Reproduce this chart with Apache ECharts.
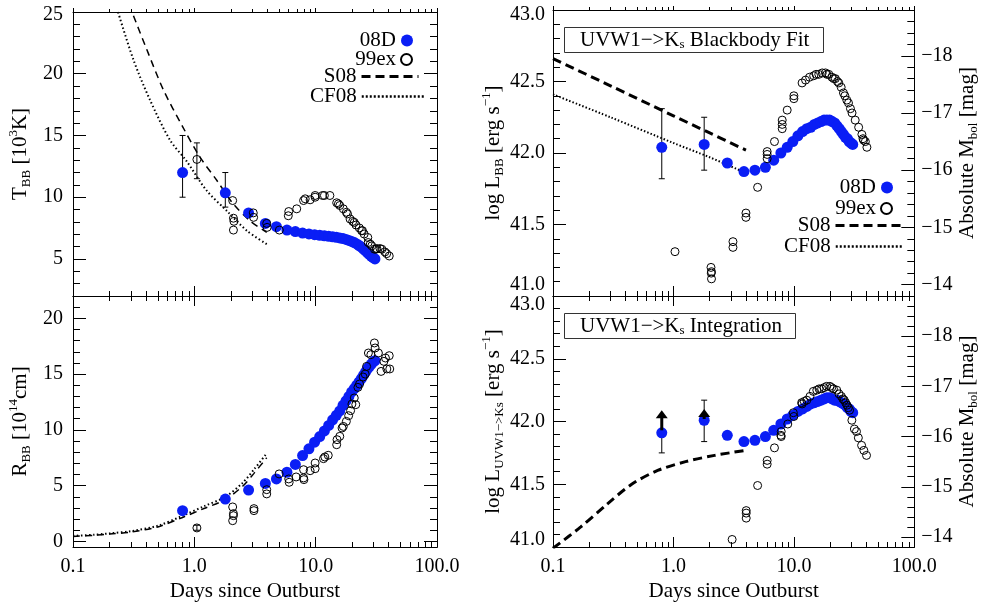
<!DOCTYPE html>
<html><head><meta charset="utf-8">
<script src="https://cdn.jsdelivr.net/npm/echarts@6.0.0/dist/echarts.min.js"></script>
<style>html,body{margin:0;padding:0;background:#fff}#c{width:981px;height:607px}</style>
</head><body><div id="c"></div>
<script>
// ---------- data ----------
// SN 2008D epochs (days since outburst)
const days08 = [0.8, 1.8, 2.8, 3.85, 4.75, 5.8, 6.8, 7.8, 8.8, 9.8, 10.8, 11.8, 12.8, 13.8, 14.8, 15.8, 16.8, 17.8, 18.8, 19.8, 20.8, 21.8, 22.8, 23.8, 24.8, 25.8, 26.8, 27.8, 28.8, 29.8, 30.8];
const T08 = [12.0, 10.36, 8.73, 7.88, 7.61, 7.34, 7.22, 7.10, 7.03, 6.97, 6.92, 6.87, 6.83, 6.79, 6.75, 6.70, 6.65, 6.58, 6.50, 6.42, 6.33, 6.22, 6.09, 5.95, 5.80, 5.65, 5.50, 5.35, 5.22, 5.10, 5.00];
const R08 = [2.76, 3.8, 4.6, 5.2, 5.6, 6.2, 6.9, 7.7, 8.3, 8.9, 9.4, 9.9, 10.4, 10.9, 11.3, 11.7, 12.2, 12.6, 13.0, 13.4, 13.7, 14.0, 14.3, 14.6, 14.9, 15.2, 15.5, 15.7, 15.9, 16.1, 16.2];
const LBB08 = [42.04, 42.06, 41.93, 41.87, 41.88, 41.90, 41.95, 42.00, 42.04, 42.08, 42.12, 42.15, 42.17, 42.18, 42.20, 42.21, 42.22, 42.23, 42.23, 42.23, 42.22, 42.21, 42.19, 42.17, 42.15, 42.13, 42.11, 42.10, 42.08, 42.07, 42.06];
const LUV08 = [41.91, 42.01, 41.89, 41.84, 41.85, 41.88, 41.93, 41.98, 42.02, 42.05, 42.08, 42.10, 42.12, 42.14, 42.15, 42.16, 42.17, 42.18, 42.19, 42.19, 42.18, 42.17, 42.17, 42.16, 42.15, 42.14, 42.13, 42.11, 42.10, 42.08, 42.07];

// SN 1999ex
const exT_days = [1.05, 2.07, 2.1, 2.12, 2.1, 3.06, 3.08, 3.95, 3.98, 5.02, 5.95, 6.0, 6.98, 7.95, 8.2, 9.0, 9.9, 9.9, 11.4, 11.8, 13.1, 14.9, 15.8, 16.9, 17.9, 19.2, 20.2, 21.5, 22.9, 24.3, 25.1, 26.9, 28.2, 29.0, 30.5, 32.0, 33.9, 35.1, 37.2, 38.5, 40.4, 15.4, 18.3, 20.8, 23.9, 27.1, 31.5];
const exT = [13.06, 9.73, 8.3, 8.05, 7.34, 8.73, 8.37, 7.88, 7.56, 7.34, 8.5, 8.84, 9.06, 9.73, 9.87, 9.79, 10.0, 10.14, 10.14, 10.14, 10.14, 9.55, 9.33, 9.06, 8.78, 8.24, 8.04, 7.75, 7.51, 7.29, 7.02, 6.74, 6.2, 6.06, 5.79, 5.84, 5.84, 5.79, 5.57, 5.43, 5.24, 9.46, 8.65, 7.96, 7.29, 6.33, 5.79];
const exR_days = [1.05, 2.07, 2.1, 2.1, 2.07, 3.1, 3.1, 3.95, 3.95, 5.0, 6.0, 6.05, 6.9, 7.95, 7.95, 8.0, 9.0, 9.9, 9.9, 11.6, 11.9, 12.7, 14.9, 15.0, 15.8, 16.5, 16.9, 17.9, 18.7, 19.4, 19.9, 20.8, 21.4, 22.3, 23.0, 24.6, 25.6, 26.3, 27.2, 28.5, 30.5, 30.9, 32.9, 34.6, 36.5, 37.6, 38.6, 40.4, 40.8];
const exR = [1.21, 3.09, 2.49, 2.31, 1.86, 2.94, 2.76, 4.64, 4.26, 6.05, 5.6, 5.3, 5.78, 6.43, 5.69, 5.54, 6.34, 7.03, 6.52, 7.42, 7.57, 7.72, 8.67, 9.12, 9.42, 10.17, 10.31, 10.76, 11.27, 11.72, 12.32, 12.86, 12.26, 13.81, 14.11, 14.74, 15.0, 15.69, 16.89, 16.74, 17.79, 17.34, 16.89, 15.24, 16.14, 16.44, 15.46, 16.65, 15.46];
const exLBB_days = [1.03, 2.05, 2.07, 2.07, 2.06, 3.12, 3.12, 4.0, 4.0, 5.0, 6.0, 6.0, 6.0, 6.9, 8.0, 8.0, 8.0, 8.8, 10.0, 10.0, 11.7, 12.5, 14.6, 16.1, 17.2, 18.3, 19.5, 20.7, 22.1, 23.6, 24.7, 25.8, 27.5, 28.4, 30.4, 32.3, 34.5, 36.7, 37.5, 37.9, 39.2, 40.4, 13.5, 15.3, 18.8, 21.4, 23.0, 26.5, 29.5];
const exLBB = [41.31, 41.2, 41.17, 41.12, 41.16, 41.38, 41.34, 41.58, 41.55, 41.76, 42.01, 41.99, 41.96, 42.08, 42.23, 42.2, 42.17, 42.3, 42.4, 42.38, 42.49, 42.51, 42.54, 42.55, 42.56, 42.56, 42.55, 42.53, 42.52, 42.49, 42.46, 42.42, 42.37, 42.35, 42.28, 42.23, 42.18, 42.13, 42.1, 42.09, 42.08, 42.04, 42.53, 42.55, 42.55, 42.52, 42.5, 42.4, 42.31];
const exLUV_days = [3.07, 4.02, 4.02, 4.02, 5.0, 6.0, 6.0, 6.9, 7.8, 7.85, 7.85, 8.9, 9.9, 10.0, 11.6, 11.7, 12.8, 14.5, 15.5, 17.0, 18.7, 19.9, 21.3, 22.7, 23.7, 24.8, 26.2, 26.9, 28.3, 30.3, 31.8, 33.1, 34.3, 36.5, 38.1, 40.1, 16.2, 17.8, 20.6, 13.6, 12.2, 25.5, 27.6, 29.0];
const exLUV = [41.06, 41.29, 41.23, 41.27, 41.49, 41.69, 41.66, 41.79, 41.89, 41.92, 41.88, 41.98, 42.07, 42.04, 42.15, 42.14, 42.17, 42.24, 42.25, 42.26, 42.28, 42.28, 42.26, 42.25, 42.22, 42.2, 42.17, 42.15, 42.11, 42.01, 41.94, 41.92, 41.87, 41.81, 41.77, 41.73, 42.26, 42.27, 42.27, 42.2, 42.16, 42.18, 42.13, 42.09];

// error bars [day, low, high]
const err08T = [[0.8, 10.0, 15.0], [1.8, 9.2, 12.0]];
const err99T = [[1.05, 11.5, 14.4]];
const err99R = [[1.05, 1.0, 1.45]];
const err08LBB = [[0.8, 41.82, 42.31], [1.8, 41.88, 42.25]];
const err08LUV = [[0.8, 41.75, 41.91], [1.8, 41.84, 42.17]];
const limits08LUV = [[0.8, 41.93, 42.09], [1.8, 42.02, 42.1]];

// model curves
const S08T_days = [0.29, 0.405, 0.555, 0.8, 1.11, 1.53, 2.09, 2.87, 3.95];
const S08T = [25.6, 21.98, 18.71, 15.72, 13.27, 11.37, 9.47, 8.1, 7.15];
const CF08T_days = [0.225, 0.314, 0.43, 0.63, 0.866, 1.26, 1.84, 2.71, 3.95];
const CF08T = [25.6, 21.16, 17.9, 14.63, 12.9, 10.55, 8.92, 7.29, 6.2];
const S08R_days = [0.1, 0.15, 0.2, 0.3, 0.5, 0.8, 1.2, 1.8, 2.5, 3.1, 3.95];
const S08R = [0.45, 0.55, 0.66, 0.84, 1.3, 2.15, 2.95, 3.75, 4.95, 6.1, 7.5];
const CF08R = [0.5, 0.6, 0.72, 0.92, 1.4, 2.3, 3.15, 4.0, 5.25, 6.45, 7.9];
const S08L_days = [0.1, 0.3, 1.0, 2.0, 4.0];
const S08LBB = [42.66, 42.47, 42.26, 42.14, 42.02];
const CF08LBB = [42.41, 42.25, 42.07, 41.97, 41.86];
const S08LUV_days = [0.1, 0.17, 0.28, 0.45, 0.74, 1.26, 2.2, 3.96];
const S08LUV = [40.99, 41.16, 41.34, 41.5, 41.61, 41.68, 41.73, 41.77];

// axis ticks
const xTickLabels = ['0.1', '1.0', '10.0', '100.0'];
const tMajor = [5, 10, 15, 20, 25];
const rMajor = [0, 5, 10, 15, 20];
const lMajor = [41.0, 41.5, 42.0, 42.5, 43.0];
const magMajor = [-18, -17, -16, -15, -14];

// ---------- chart ----------
const FONT = 'Liberation Serif';
const BLUE = '#0a1ef5';
function pairs(xs, ys) { return xs.map((x, i) => [x, ys[i]]); }
function range(a, b, s) { const r = []; for (let k = 0; a + k * s <= b + 1e-9; k++) r.push(+(a + k * s).toFixed(3)); return r; }

const grids = [
  {left: 73, top: 12, width: 364, height: 284},
  {left: 73, top: 296, width: 364, height: 251},
  {left: 553, top: 10, width: 363, height: 286},
  {left: 553, top: 296, width: 363, height: 251}
];

const nameRich = {
  a: {fontFamily: FONT, fontSize: 21, color: '#000', lineHeight: 26},
  b: {fontFamily: FONT, fontSize: 13, color: '#000', lineHeight: 12, verticalAlign: 'bottom'},
  c: {fontFamily: FONT, fontSize: 13, color: '#000', lineHeight: 12, verticalAlign: 'top'}
};

const xAxis = [];
function addX(g, labels, topOutside) {
  const common = {
    type: 'log', logBase: 10, min: 0.1, max: 100, gridIndex: g,
    splitLine: {show: false}, minorSplitLine: {show: false},
    axisLine: {show: true, onZero: false, lineStyle: {color: '#000', width: 1}},
    minorTick: {show: true, splitNumber: 9, length: 5, lineStyle: {color: '#000', width: 1}}
  };
  const bottom = Object.assign({}, common, {
    position: 'bottom',
    axisTick: {show: true, inside: true, length: 10, lineStyle: {color: '#000', width: 1}},
    axisLabel: {show: labels, margin: 10, fontFamily: FONT, fontSize: 20, color: '#000',
      formatter: v => xTickLabels[Math.round(Math.log10(v)) + 1]}
  });
  if (labels) {
    bottom.name = 'Days since Outburst';
    bottom.nameLocation = 'middle';
    bottom.nameGap = 34;
    bottom.nameTextStyle = {fontFamily: FONT, fontSize: 21, color: '#000'};
  }
  const top = Object.assign({}, common, {
    position: 'top',
    axisTick: {show: true, inside: !topOutside, length: topOutside ? 4 : 10, lineStyle: {color: '#000', width: 1}},
    minorTick: {show: true, splitNumber: 9, length: topOutside ? 3 : 5, lineStyle: {color: '#000', width: 1}},
    axisLabel: {show: false}
  });
  xAxis.push(bottom, top);
}
addX(0, false, true); addX(1, true, false); addX(2, false, true); addX(3, true, false);

const yAxis = [];
function yPair(g, pos, min, max, majors, minors, o) {
  o = o || {};
  const base = {
    type: 'value', gridIndex: g, position: pos, min, max, inverse: !!o.inverse,
    splitLine: {show: false}, minorTick: {show: false},
    axisLine: {show: true, onZero: false, lineStyle: {color: '#000', width: 1}}
  };
  const minor = Object.assign({}, base, {
    axisTick: {show: true, inside: true, length: 7, customValues: minors, lineStyle: {color: '#000'}},
    axisLabel: {show: false}
  });
  const major = Object.assign({}, base, {
    axisTick: {show: true, inside: true, length: 13, customValues: majors, lineStyle: {color: '#000'}},
    axisLabel: {show: !!o.labels, customValues: majors, margin: o.margin || 8, fontFamily: FONT, fontSize: 20,
      color: '#000', formatter: o.fmt, rich: o.rich}
  });
  if (o.name) {
    major.name = o.name; major.nameLocation = 'middle'; major.nameGap = o.nameGap;
    major.nameRotate = 90;
    major.nameTextStyle = {rich: nameRich, fontFamily: FONT, fontSize: 21, color: '#000'};
  }
  yAxis.push(minor, major);
}
const lab = pad => ({fontFamily: FONT, fontSize: 20, color: '#000', padding: pad});
// grid 0: T_BB
yPair(0, 'left', 2, 25, tMajor, range(2, 25, 1), {labels: true, margin: 10,
  fmt: v => v === 25 ? '{d|25}' : '{n|' + v + '}', rich: {d: lab([6, 0, 0, 0]), n: lab([0, 0, 0, 0])},
  name: '{a|T}{b|BB}{a| [10}{c|3}{a|K]}', nameGap: 40});
yPair(0, 'right', 2, 25, tMajor, range(2, 25, 1));
// grid 1: R_BB
yPair(1, 'left', -0.5, 22, rMajor, range(0, 22, 1), {labels: true, margin: 10,
  fmt: v => '{n|' + v + '}', rich: {n: lab([0, 0, 0, 0])},
  name: '{a|R}{b|BB}{a| [10}{c|14}{a|cm]}', nameGap: 40});
yPair(1, 'right', -0.5, 22, rMajor, range(0, 22, 1));
// grid 2: log L_BB
yPair(2, 'left', 41, 43, lMajor, range(41, 43, 0.1), {labels: true, margin: 8,
  fmt: v => v === 41 ? '{u|41.0}' : v === 43 ? '{d|43.0}' : '{n|' + v.toFixed(1) + '}',
  rich: {u: lab([0, 0, 22, 0]), d: lab([10, 0, 0, 0]), n: lab([0, 0, 0, 0])},
  name: '{a|log L}{b|BB}{a| [erg s}{c|−1}{a|]}', nameGap: 44});
yPair(2, 'right', -18.8, -13.8, magMajor, range(-18.8, -13.8, 0.2), {inverse: true, labels: true, margin: 7,
  fmt: v => '{n|−' + Math.abs(v) + '}', rich: {n: lab([0, 0, 0, 0])},
  name: '{a|Absolute M}{b|bol}{a| [mag]}', nameGap: 38});
// grid 3: log L_UVW1->Ks
yPair(3, 'left', 41, 43, lMajor, range(41, 43, 0.1), {labels: true, margin: 8,
  fmt: v => v === 41 ? '{u|41.0}' : v === 43 ? '{d|43.0}' : '{n|' + v.toFixed(1) + '}',
  rich: {u: lab([0, 0, 14, 0]), d: lab([18, 0, 0, 0]), n: lab([0, 0, 0, 0])},
  name: '{a|log L}{b|UVW1−>Ks}{a| [erg s}{c|−1}{a|]}', nameGap: 44});
yPair(3, 'right', -18.8, -13.8, magMajor, range(-18.8, -13.8, 0.2), {inverse: true, labels: true, margin: 7,
  fmt: v => '{n|−' + Math.abs(v) + '}', rich: {n: lab([0, 0, 0, 0])},
  name: '{a|Absolute M}{b|bol}{a| [mag]}', nameGap: 38});

const series = [];
function lineS(g, name, xs, ys, style) {
  series.push({type: 'line', name, xAxisIndex: 2 * g, yAxisIndex: 4 * g + 1, data: pairs(xs, ys),
    showSymbol: false, symbol: 'none', smooth: 0.3, silent: true, z: 2,
    itemStyle: {color: 'rgba(0,0,0,0)', borderWidth: 0},
    lineStyle: Object.assign({color: '#000'}, style)});
}
function dots08(g, ys) {
  series.push({type: 'scatter', name: '08D', xAxisIndex: 2 * g, yAxisIndex: 4 * g + 1, data: pairs(days08, ys),
    symbol: 'circle', symbolSize: 11, itemStyle: {color: BLUE, opacity: 1}, z: 4});
}
function dots99(g, xs, ys) {
  series.push({type: 'scatter', name: '99ex', xAxisIndex: 2 * g, yAxisIndex: 4 * g + 1, data: pairs(xs, ys),
    symbol: 'circle', symbolSize: 8, itemStyle: {color: 'rgba(255,255,255,0)', borderColor: '#000', borderWidth: 1, opacity: 1}, z: 5});
}
function errS(g, rows) {
  series.push({type: 'custom', name: 'err', xAxisIndex: 2 * g, yAxisIndex: 4 * g + 1, data: rows, z: 3, silent: true,
    encode: {x: 0, y: [1, 2]},
    renderItem: (p, api) => {
      const a = api.coord([api.value(0), api.value(1)]), b = api.coord([api.value(0), api.value(2)]);
      const st = {stroke: '#000', lineWidth: 1};
      return {type: 'group', children: [
        {type: 'line', shape: {x1: a[0], y1: a[1], x2: b[0], y2: b[1]}, style: st},
        {type: 'line', shape: {x1: a[0] - 3, y1: a[1], x2: a[0] + 3, y2: a[1]}, style: st},
        {type: 'line', shape: {x1: b[0] - 3, y1: b[1], x2: b[0] + 3, y2: b[1]}, style: st}
      ]};
    }});
}
function arrowS(g, rows) {
  series.push({type: 'custom', name: 'limit', xAxisIndex: 2 * g, yAxisIndex: 4 * g + 1, data: rows, z: 6, silent: true,
    encode: {x: 0, y: [1, 2]},
    renderItem: (p, api) => {
      const a = api.coord([api.value(0), api.value(1)]), b = api.coord([api.value(0), api.value(2)]);
      return {type: 'group', children: [
        {type: 'line', shape: {x1: a[0], y1: a[1], x2: b[0], y2: b[1] + 6}, style: {stroke: '#000', lineWidth: 3}},
        {type: 'polygon', shape: {points: [[b[0], b[1]], [b[0] - 6, b[1] + 8], [b[0] + 6, b[1] + 8]]}, style: {fill: '#000'}}
      ]};
    }});
}

const dashThin = {width: 1.5, type: [7, 5]};
const dotThin = {width: 2, type: [1.5, 2.5]};
const dashThick = {width: 3, type: [9, 5]};
const dotThick = {width: 2, type: [1.5, 2]};

// panel 0
lineS(0, 'S08', S08T_days, S08T, dashThin);
lineS(0, 'CF08', CF08T_days, CF08T, dotThin);
errS(0, err08T); errS(0, err99T);
dots08(0, T08); dots99(0, exT_days, exT);
// panel 1
lineS(1, 'S08', S08R_days, S08R, dashThin);
lineS(1, 'CF08', S08R_days, CF08R, dotThin);
errS(1, err99R);
dots08(1, R08); dots99(1, exR_days, exR);
// panel 2
lineS(2, 'S08', S08L_days, S08LBB, dashThick);
lineS(2, 'CF08', S08L_days, CF08LBB, dotThick);
errS(2, err08LBB);
dots08(2, LBB08); dots99(2, exLBB_days, exLBB);
// panel 3
lineS(3, 'S08', S08LUV_days, S08LUV, dashThick);
errS(3, err08LUV);
dots08(3, LUV08); dots99(3, exLUV_days, exLUV);
arrowS(3, limits08LUV);

function leg(name, right, top, w, h, extra) {
  return Object.assign({data: [name], right, top, orient: 'vertical', align: 'right', itemWidth: w, itemHeight: h,
    padding: 0, selectedMode: false, textStyle: {fontFamily: FONT, fontSize: 21, color: '#000'}}, extra || {});
}
const legend = [
  leg('08D', 568, 30, 12, 12),
  leg('99ex', 568, 49, 11, 11),
  leg('S08', 561, 66, 57, 14, {lineStyle: {width: 3, type: [9, 5]}}),
  leg('CF08', 554, 86, 64, 14, {lineStyle: {width: 2.5, type: [2, 2]}}),
  leg('08D', 88, 177, 12, 12),
  leg('99ex', 88, 198, 11, 11),
  leg('S08', 76, 215, 68, 14, {lineStyle: {width: 3, type: [9, 5]}}),
  leg('CF08', 76, 236, 68, 14, {lineStyle: {width: 2.5, type: [2, 2]}})
];

const boxText = {fontFamily: FONT, fontSize: 21, fontWeight: 'normal', color: '#000', lineHeight: 22,
  rich: {s: {fontFamily: FONT, fontSize: 13, color: '#000', lineHeight: 11, verticalAlign: 'bottom'}}};
const title = [
  {text: 'UVW1−>K{s|s} Blackbody Fit', left: 564, top: 27, padding: [2, 14, 2, 16], borderWidth: 1, borderColor: '#333', textStyle: boxText},
  {text: 'UVW1−>K{s|s} Integration', left: 564, top: 313, padding: [2, 14, 2, 16], borderWidth: 1, borderColor: '#333', textStyle: boxText}
];

const chart = echarts.init(document.getElementById('c'), null, {renderer: 'canvas'});
chart.setOption({animation: false, backgroundColor: '#fff', textStyle: {fontFamily: FONT},
  grid: grids, xAxis, yAxis, series, legend, title});
</script></body></html>
